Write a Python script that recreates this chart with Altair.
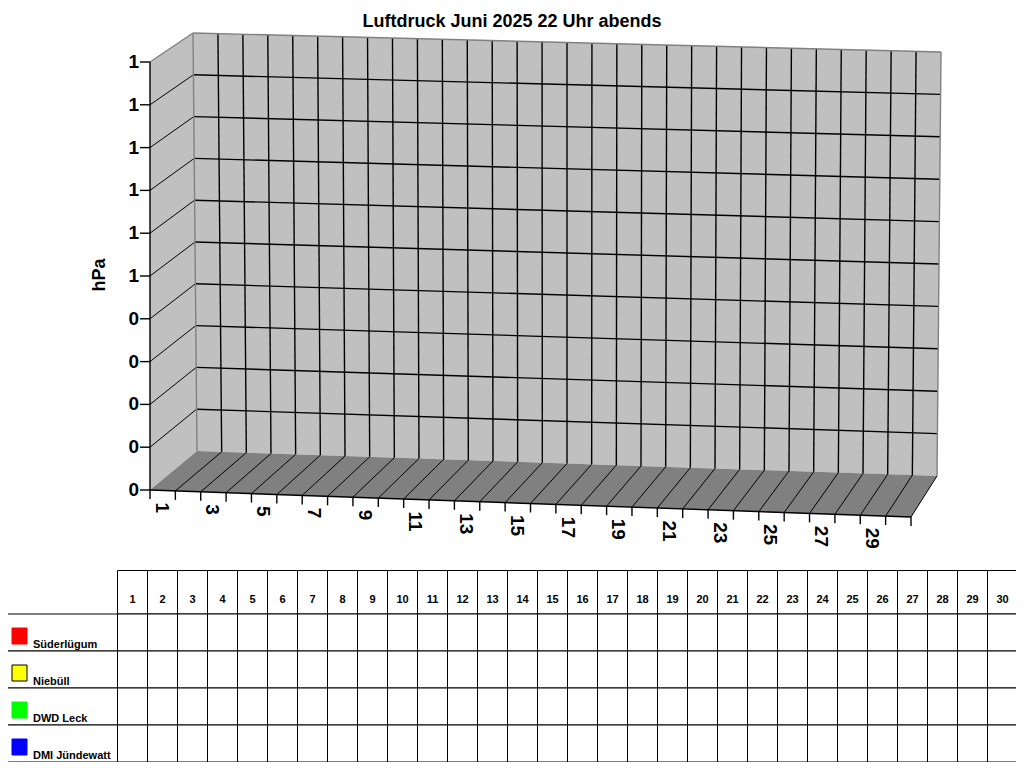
import altair as alt
import pandas as pd

# ---------------- data ----------------
title_text = "Luftdruck Juni 2025 22 Uhr abends"
y_title = "hPa"
days = list(range(1, 31))
x_tick_days = [1, 3, 5, 7, 9, 11, 13, 15, 17, 19, 21, 23, 25, 27, 29]
y_values = [0.0, 0.1, 0.2, 0.3, 0.4, 0.5, 0.6, 0.7, 0.8, 0.9, 1.0]
y_labels = ["0", "0", "0", "0", "0", "1", "1", "1", "1", "1", "1"]
stations = ["Süderlügum", "Niebüll", "DWD Leck", "DMI Jündewatt"]
station_colors = ["#ff0000", "#ffff00", "#00ff00", "#0000ff"]
station_borders = ["#ff0000", "#000000", "#00ff00", "#0000ff"]
# pressure readings (hPa) at 22:00 per station and day: none recorded yet
pressure = {s: [] for s in stations}

# ---------------- layout / projection ----------------
H = 754
FONT = "Liberation Sans"
N = len(days)
FRONT = {"bl": (150, 490), "br": (911, 517), "tl": (150, 62), "tr": (911, 89)}
BACK = {"bl": (197, 451), "br": (937, 476), "tl": (193, 33), "tr": (941, 52)}


def lerp(a, b, t):
    return (a[0] + (b[0] - a[0]) * t, a[1] + (b[1] - a[1]) * t)


def bilin(c, u, v):
    return lerp(lerp(c["bl"], c["br"], u), lerp(c["tl"], c["tr"], u), v)


def vpos(val):
    return (val - y_values[0]) / (y_values[-1] - y_values[0])


def front(u, v):
    return bilin(FRONT, u, v)


def back(u, v):
    return bilin(BACK, u, v)


def poly_to_area(verts):
    xs_ = sorted(set(round(p[0], 4) for p in verts))
    rows = []
    n = len(verts)
    for x in xs_:
        ys_ = []
        for i in range(n):
            a, b = verts[i], verts[(i + 1) % n]
            lo, hi = min(a[0], b[0]), max(a[0], b[0])
            if lo - 1e-6 <= x <= hi + 1e-6:
                if abs(b[0] - a[0]) < 1e-9:
                    ys_ += [a[1], b[1]]
                else:
                    t = (x - a[0]) / (b[0] - a[0])
                    ys_.append(a[1] + (b[1] - a[1]) * t)
        rows.append({"x": x, "y": min(ys_), "y2": max(ys_)})
    return pd.DataFrame(rows)


xs = alt.Scale(domain=[8, 1016], nice=False, zero=False)
ys = alt.Scale(domain=[8 + H, 8], nice=False, zero=False)


def X(f="x"):
    return alt.X(f"{f}:Q", scale=xs, axis=None)


def Y(f="y"):
    return alt.Y(f"{f}:Q", scale=ys, axis=None)


def area_layer(verts, color):
    return alt.Chart(poly_to_area(verts)).mark_area(
        color=color, orient="vertical", opacity=1
    ).encode(x=X(), y=Y(), y2="y2:Q")


def seg_df(segs):
    return pd.DataFrame(
        [{"x": a[0], "y": a[1], "x2": b[0], "y2": b[1]} for a, b in segs]
    )


def rule_layer(segs, color, width):
    return alt.Chart(seg_df(segs)).mark_rule(color=color, strokeWidth=width).encode(
        x=X(), y=Y(), x2="x2:Q", y2="y2:Q"
    )


vs = [vpos(v) for v in y_values]

side = area_layer([front(0, 0), front(0, 1), back(0, 1), back(0, 0)], "#c0c0c0")
wall = area_layer([back(0, 0), back(1, 0), back(1, 1), back(0, 1)], "#c0c0c0")
floor = area_layer([front(0, 0), front(1, 0), back(1, 0), back(0, 0)], "#808080")

back_grid = rule_layer(
    [(back(k / N, 0), back(k / N, 1)) for k in range(1, N)]
    + [(back(0, v), back(1, v)) for v in vs[1:-1]],
    "#000000", 1.4,
)
side_grid = rule_layer([(front(0, v), back(0, v)) for v in vs[1:-1]], "#000000", 1)
floor_grid = rule_layer([(front(k / N, 0), back(k / N, 0)) for k in range(1, N + 1)], "#000000", 1)
gray_edges = rule_layer(
    [
        (back(0, 1), back(1, 1)),
        (back(0, 0), back(0, 1)),
        (back(1, 0), back(1, 1)),
        (front(0, 1), back(0, 1)),
    ],
    "#808080", 1.4,
)
axes_lines = rule_layer(
    [(front(0, 0), front(0, 1)), (front(0, 0), front(1, 0))]
    + [(front(0, v), (front(0, v)[0] - 10, front(0, v)[1])) for v in vs]
    + [(front(k / N, 0), (front(k / N, 0)[0], front(k / N, 0)[1] + 9)) for k in range(0, N + 1)],
    "#000000", 1.4,
)

ylab_df = pd.DataFrame(
    [{"x": front(0, v)[0] - 11, "y": front(0, v)[1], "t": lab} for v, lab in zip(vs, y_labels)]
)
ylabs = alt.Chart(ylab_df).mark_text(
    align="right", baseline="middle", font=FONT, fontSize=19, fontWeight="bold", color="#000000"
).encode(x=X(), y=Y(), text="t:N")

xlab_df = pd.DataFrame(
    [
        {"x": front((d - 0.5) / N, 0)[0] - 1, "y": front((d - 0.5) / N, 0)[1] + 12, "t": str(d)}
        for d in x_tick_days
    ]
)
xlabs = alt.Chart(xlab_df).mark_text(
    align="left", baseline="middle", angle=90, font=FONT, fontSize=19, fontWeight="bold", color="#000000"
).encode(x=X(), y=Y(), text="t:N")

title = alt.Chart(pd.DataFrame([{"x": 512, "y": 22, "t": title_text}])).mark_text(
    align="center", baseline="middle", font=FONT, fontSize=18, fontWeight="bold", color="#000000"
).encode(x=X(), y=Y(), text="t:N")

ytitle = alt.Chart(pd.DataFrame([{"x": 100, "y": 275, "t": y_title}])).mark_text(
    align="center", baseline="middle", angle=270, font=FONT, fontSize=18, fontWeight="bold", color="#000000"
).encode(x=X(), y=Y(), text="t:N")

# ---------------- table ----------------
T_LEFT, T_COL0, COL_W = 7.5, 117.5, 30
T_TOP, HEAD_H, ROW_H = 570.5, 43.5, 37

cells = []
for j, d in enumerate(days):
    cells.append({"x": T_COL0 + COL_W * j, "x2": T_COL0 + COL_W * (j + 1),
                  "y": T_TOP, "y2": T_TOP + HEAD_H})
for i, s in enumerate(stations):
    top = T_TOP + HEAD_H + ROW_H * i
    cells.append({"x": T_LEFT, "x2": T_COL0, "y": top, "y2": top + ROW_H})
    for j, d in enumerate(days):
        cells.append({"x": T_COL0 + COL_W * j, "x2": T_COL0 + COL_W * (j + 1),
                      "y": top, "y2": top + ROW_H})
table = alt.Chart(pd.DataFrame(cells)).mark_rect(
    fill="#ffffff", stroke="#000000", strokeWidth=1
).encode(x=X(), x2="x2:Q", y=Y(), y2="y2:Q")

head_df = pd.DataFrame(
    [{"x": T_COL0 + COL_W * (j + 0.5), "y": T_TOP + 29, "t": str(d)} for j, d in enumerate(days)]
)
head_txt = alt.Chart(head_df).mark_text(
    align="center", baseline="middle", font=FONT, fontSize=11, fontWeight="bold", color="#000000"
).encode(x=X(), y=Y(), text="t:N")

sq_df = pd.DataFrame(
    [
        {"x": 12, "x2": 27, "y": T_TOP + HEAD_H + ROW_H * i + 14, "y2": T_TOP + HEAD_H + ROW_H * i + 30,
         "s": s}
        for i, s in enumerate(stations)
    ]
)
squares = alt.Chart(sq_df).mark_rect(strokeWidth=1).encode(
    x=X(), x2="x2:Q", y=Y(), y2="y2:Q",
    fill=alt.Fill("s:N", scale=alt.Scale(domain=stations, range=station_colors), legend=None),
    stroke=alt.Stroke("s:N", scale=alt.Scale(domain=stations, range=station_borders), legend=None),
)

st_df = pd.DataFrame(
    [{"x": 33, "y": T_TOP + HEAD_H + ROW_H * i + 34, "t": s} for i, s in enumerate(stations)]
)
st_txt = alt.Chart(st_df).mark_text(
    align="left", baseline="alphabetic", font=FONT, fontSize=11, fontWeight="bold", color="#000000"
).encode(x=X(), y=Y(), text="t:N")

chart = alt.layer(
    side, wall, floor, side_grid, back_grid, floor_grid, gray_edges, axes_lines,
    ylabs, xlabs, title, ytitle, table, head_txt, squares, st_txt,
).properties(
    width=1008, height=H, padding=0, autosize=alt.AutoSizeParams(type="none")
).configure_view(stroke=None)

chart.save("out.html", embed_options={"renderer": "svg", "actions": False})
